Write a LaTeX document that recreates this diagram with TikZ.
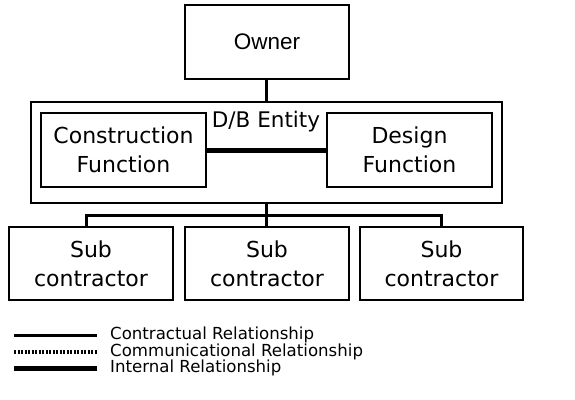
\documentclass[tikz,border=0pt]{standalone}
\usepackage{fontspec}
\setmainfont{DejaVu Sans}
\newfontfamily\arialfont{Liberation Sans}
\begin{document}
\begin{tikzpicture}[x=1pt,y=-1pt,
  box/.style={draw, line width=1.3pt, inner sep=0pt, align=center,
    font=\fontsize{22}{29}\selectfont},
  contract/.style={line width=3pt},
  internal/.style={line width=5pt},
  commun/.style={line width=3.4pt, dash pattern=on 2.2pt off 1.3pt},
  legtext/.style={anchor=west, inner sep=0pt, font=\fontsize{16.6}{18}\selectfont}]
\useasboundingbox (0,0) rectangle (575,399);
% outer design/build entity
\node[box, minimum width=471pt, minimum height=101pt] (db) at (266.5,152.5) {};
\node[inner sep=0pt, font=\fontsize{21.5}{24}\selectfont] (dbl) at (266,122) {D/B Entity};
% top and inner boxes
\node[box, minimum width=164pt, minimum height=74pt, font=\arialfont\fontsize{22.5}{26}\selectfont] (owner) at (267,42) {Owner};
\node[box, minimum width=165pt, minimum height=74pt] (cons) at (123.5,150) {Construction\\Function};
\node[box, minimum width=165pt, minimum height=74pt] (des) at (409.5,150) {Design\\Function};
% subcontractors
\node[box, minimum width=164pt, minimum height=73pt] (s1) at (91,263.5) {Sub\\contractor};
\node[box, minimum width=164pt, minimum height=73pt] (s2) at (267,263.5) {Sub\\contractor};
\node[box, minimum width=163pt, minimum height=73pt] (s3) at (441.5,263.5) {Sub\\contractor};
% relationships
\draw[contract] (owner.south -| db.north) ++(-0.5,0) coordinate (oa) -- (oa |- db.north);
\draw[internal] (cons.east) -- (des.west);
\coordinate (bus) at (266,215);
\draw[contract] (bus |- db.south) -- (bus |- s2.north);
\draw[contract] (s1.north) ++(-5,0) coordinate (b1) -- (b1 |- bus) -- (bus -| s3.north) -- (s3.north);
% legend
\coordinate (l1) at (14,335);
\coordinate (l2) at (14,352);
\coordinate (l3) at (14,368);
\draw[contract] (l1) -- ++(83,0) coordinate (l1e);
\draw[commun] (l2) -- ++(83,0) coordinate (l2e);
\draw[internal] (l3) -- ++(83,0) coordinate (l3e);
\node[legtext] (t1) at (110,335) {Contractual Relationship};
\node[legtext] (t2) at (110,352) {Communicational Relationship};
\node[legtext] (t3) at (110,368) {Internal Relationship};
\end{tikzpicture}
\end{document}
